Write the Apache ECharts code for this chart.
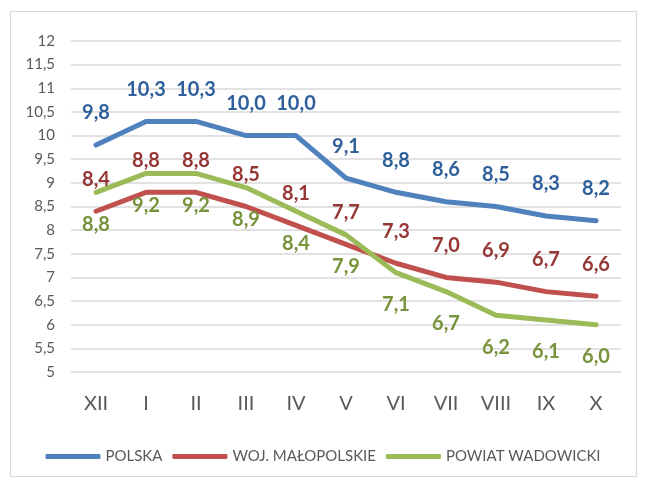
<!DOCTYPE html>
<html>
<head>
<meta charset="utf-8">
<script src="https://cdn.jsdelivr.net/npm/echarts@6/dist/echarts.min.js"></script>
<style>
    html, body { margin: 0; padding: 0; background: #fff; }
    #frame {
        position: absolute; left: 10px; top: 11px; width: 627px; height: 466px;
        border: 1px solid #d9d9d9; box-sizing: border-box;
    }
    #chart { position: absolute; left: 0; top: 0; width: 646px; height: 483px; }
</style>
</head>
<body>
<div id="frame"></div>
<div id="chart"></div>
<script>
    // dane
    var months = ['XII', 'I', 'II', 'III', 'IV', 'V', 'VI', 'VII', 'VIII', 'IX', 'X']
    var polska = [9.8, 10.3, 10.3, 10.0, 10.0, 9.1, 8.8, 8.6, 8.5, 8.3, 8.2]
    var malopolskie = [8.4, 8.8, 8.8, 8.5, 8.1, 7.7, 7.3, 7.0, 6.9, 6.7, 6.6]
    var wadowicki = [8.8, 9.2, 9.2, 8.9, 8.4, 7.9, 7.1, 6.7, 6.2, 6.1, 6.0]

    var fmt = function (v) { return v.toFixed(1).replace('.', ',') }

    function makeSeries(name, data, color, labelColor, pos) {
        return {
            name: name,
            type: 'line',
            data: data,
            showSymbol: true,
            symbol: 'circle',
            symbolSize: 0,
            lineStyle: { color: color, width: 5, cap: 'round', join: 'round' },
            itemStyle: { color: color },
            label: {
                show: true,
                position: pos,
                distance: 22,
                color: labelColor,
                fontSize: 20,
                fontWeight: 'bold',
                fontFamily: 'Lato',
                formatter: function (p) { return fmt(p.value) }
            }
        }
    }

    var myChart = echarts.init(document.getElementById('chart'))
    myChart.setOption({
        animation: false,
        grid: { left: 71, right: 25, top: 41, bottom: 111 },
        legend: {
            bottom: 14,
            left: 'center',
            itemWidth: 55,
            itemHeight: 5,
            itemGap: 10,
            icon: 'roundRect',
            textStyle: { color: '#595959', fontSize: 15, fontFamily: 'Lato' },
            data: ['POLSKA', 'WOJ. MAŁOPOLSKIE', 'POWIAT WADOWICKI']
        },
        xAxis: {
            type: 'category',
            data: months,
            boundaryGap: true,
            axisLine: { show: false },
            axisTick: { show: false },
            axisLabel: { color: '#595959', fontSize: 20, fontFamily: 'Lato', margin: 22 }
        },
        yAxis: {
            type: 'value',
            min: 5,
            max: 12,
            interval: 0.5,
            axisLine: { show: false },
            axisTick: { show: false },
            axisLabel: {
                color: '#595959', fontSize: 15, fontFamily: 'Lato', margin: 16,
                formatter: function (v) { return String(v).replace('.', ',') }
            },
            splitLine: { lineStyle: { color: '#d9d9d9', width: 1.5 } }
        },
        series: [
            makeSeries('POLSKA', polska, '#4f81bd', '#30609c', 'top'),
            makeSeries('WOJ. MAŁOPOLSKIE', malopolskie, '#c0504d', '#953735', 'top'),
            makeSeries('POWIAT WADOWICKI', wadowicki, '#9bbb59', '#77933c', 'bottom')
        ]
    })
</script>
</body>
</html>
